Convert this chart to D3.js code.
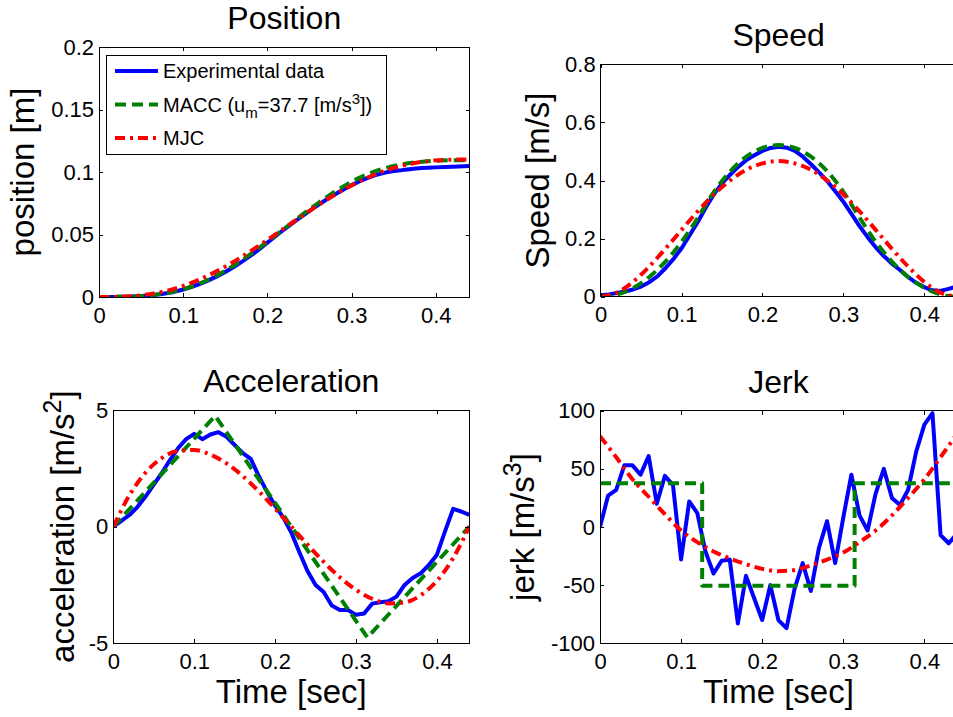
<!DOCTYPE html>
<html>
<head>
<meta charset="utf-8">
<script src="https://cdn.jsdelivr.net/npm/d3@7"></script>
<style>
  body { margin: 0; background: #fff; }
  svg { display: block; font-family: "Liberation Sans", Arial, Helvetica, sans-serif; }
  .frame { fill: none; stroke: #000; stroke-width: 1; shape-rendering: crispEdges; }
  .tick line { stroke: #000; shape-rendering: crispEdges; }
  .tick text { font-size: 22px; fill: #000; }
  .title { font-size: 32px; fill: #000; }
  .label { font-size: 33px; fill: #000; }
</style>
</head>
<body>
<script>
// time bases (sec)
var timeFine = [0, 0.01, 0.02, 0.03, 0.04, 0.05, 0.06, 0.07, 0.08, 0.09, 0.10, 0.11, 0.12, 0.13, 0.14,
  0.15, 0.16, 0.17, 0.18, 0.19, 0.20, 0.21, 0.22, 0.23, 0.24, 0.25, 0.26, 0.27, 0.28, 0.29, 0.30,
  0.31, 0.32, 0.33, 0.34, 0.35, 0.36, 0.37, 0.38, 0.39, 0.40, 0.41, 0.42, 0.43, 0.44];
var timeCoarse = [0, 0.02, 0.04, 0.06, 0.08, 0.10, 0.12, 0.14, 0.16, 0.18, 0.20, 0.22,
  0.24, 0.26, 0.28, 0.30, 0.32, 0.34, 0.36, 0.38, 0.40, 0.42, 0.44];

// position [m]
var posExp = [0, 0.0001, 0.0004, 0.0012, 0.003, 0.006, 0.0105, 0.0165, 0.024, 0.033, 0.0435, 0.054,
  0.064, 0.0735, 0.082, 0.0895, 0.0955, 0.0995, 0.1015, 0.103, 0.1037, 0.1042, 0.1048];
var posMacc = [0, 0.0001, 0.0004, 0.0014, 0.0032, 0.0063, 0.0109, 0.0172, 0.0252, 0.0343, 0.0443, 0.0547,
  0.0651, 0.075, 0.0842, 0.0922, 0.0985, 0.1031, 0.1062, 0.108, 0.109, 0.1094, 0.1095];
var posMjc = [0, 0.0001, 0.0007, 0.0023, 0.0049, 0.0089, 0.0142, 0.0207, 0.0282, 0.0367, 0.0457, 0.055,
  0.0643, 0.0733, 0.0818, 0.0893, 0.0958, 0.1011, 0.1051, 0.1078, 0.1093, 0.1099, 0.11];

// speed [m/s]
var speedExp = [0.005, 0.008, 0.013, 0.018, 0.025, 0.035, 0.05, 0.07, 0.098, 0.13, 0.167, 0.212, 0.257,
  0.307, 0.353, 0.39, 0.42, 0.447, 0.47, 0.487, 0.502, 0.512, 0.516, 0.513, 0.502, 0.482, 0.456, 0.428,
  0.398, 0.363, 0.327, 0.285, 0.243, 0.205, 0.17, 0.14, 0.114, 0.092, 0.068, 0.048, 0.033, 0.022, 0.02,
  0.027, 0.035];
var speedMacc = [0, 0.0075, 0.03, 0.068, 0.121, 0.189, 0.271, 0.361, 0.431, 0.482, 0.512, 0.522,
  0.512, 0.482, 0.432, 0.361, 0.272, 0.189, 0.121, 0.068, 0.031, 0.008, 0];
var speedMjc = [0, 0.014, 0.051, 0.104, 0.165, 0.23, 0.294, 0.352, 0.4, 0.437, 0.459, 0.467,
  0.459, 0.437, 0.4, 0.352, 0.294, 0.23, 0.165, 0.104, 0.051, 0.014, 0];

// acceleration [m/s^2]
var accExp = [0, 0.25, 0.5, 0.85, 1.3, 1.8, 2.3, 2.85, 3.36, 3.75, 3.98, 3.75, 3.95, 4.05, 3.85, 3.5,
  3.15, 2.9, 2.15, 1.5, 0.9, 0.4, -0.25, -1.1, -1.9, -2.5, -2.8, -3.38, -3.57, -3.57, -3.78, -3.72,
  -3.3, -3.24, -3.2, -3.0, -2.5, -2.2, -2.0, -1.64, -1.2, -0.2, 0.76, 0.65, 0.5];
var accMaccTime = [0, 0.126, 0.314, 0.44];
var accMacc = [0, 4.75, -4.75, 0];
var accMjc = [0, 1.35, 2.32, 2.94, 3.25, 3.29, 3.09, 2.71, 2.17, 1.51, 0.77, 0,
  -0.77, -1.51, -2.17, -2.71, -3.09, -3.29, -3.25, -2.94, -2.32, -1.35, 0];

// jerk [m/s^3]
var jerkExp = [0, 27, 32, 53, 53, 45, 61, 20, 44, 36, -28, 22, 12, -21, -40, -29, -28, -83, -42, -61,
  -80, -50, -80, -87, -53, -31, -55, -18, 5, -31, 8, 45, 10, -3, 29, 50, 25, 19, 32, 65, 88, 98, -7,
  -14, -6];
var jerkMaccTime = [0, 0.126, 0.126, 0.314, 0.314, 0.44];
var jerkMacc = [37.7, 37.7, -50.5, -50.5, 37.7, 37.7];
var jerkMjc = [78, 60, 41, 26, 11, -3, -13, -21, -27, -32, -36, -38,
  -37, -33, -28, -22, -13, -3, 10, 25, 41, 60, 80];

// ticks
var xTicks = [0, 0.1, 0.2, 0.3, 0.4];
var posTicks = [0, 0.05, 0.1, 0.15, 0.2];
var speedTicks = [0, 0.2, 0.4, 0.6, 0.8];
var accTicks = [-5, 0, 5];
var jerkTicks = [-100, -50, 0, 50, 100];

var legendNames = ["Experimental data", "MACC", "MJC"];

var styles = {
  exp:  { color: "#0000ff", dash: null },
  macc: { color: "#008000", dash: "11,6" },
  mjc:  { color: "#ff0000", dash: "10,5,3,5" }
};

var width = 953, height = 717;

var svg = d3.select("body")
  .append("svg")
  .attr("width", width)
  .attr("height", height);

var fmt = function(d) { return String(+d.toFixed(3)); };

//panel layout
var panels = [
  { title: "Position", left: 99, top: 47, right: 469.5, bottom: 297, yDomain: [0, 0.2], yTicks: posTicks,
    ylabel: [["position [m]"]], ylabelX: 34,
    series: [["exp", timeCoarse, posExp, true], ["macc", timeCoarse, posMacc, true], ["mjc", timeCoarse, posMjc, true]] },
  { title: "Speed", left: 600.7, top: 64.3, right: 956.6, bottom: 296.7, yDomain: [0, 0.8], yTicks: speedTicks,
    ylabel: [["Speed [m/s]"]], ylabelX: 549,
    series: [["exp", timeFine, speedExp, false], ["macc", timeCoarse, speedMacc, true], ["mjc", timeCoarse, speedMjc, true]] },
  { title: "Acceleration", left: 113.3, top: 410, right: 469.3, bottom: 643.3, yDomain: [-5, 5], yTicks: accTicks,
    ylabel: [["acceleration [m/s"], ["2", "sup"], ["]"]], ylabelX: 74, xlabel: "Time [sec]",
    series: [["exp", timeFine, accExp, false], ["macc", accMaccTime, accMacc, false], ["mjc", timeCoarse, accMjc, true]] },
  { title: "Jerk", left: 600, top: 410.7, right: 956.8, bottom: 643.3, yDomain: [-100, 100], yTicks: jerkTicks,
    ylabel: [["jerk [m/s"], ["3", "sup"], ["]"]], ylabelX: 534, xlabel: "Time [sec]",
    series: [["exp", timeFine, jerkExp, false], ["macc", jerkMaccTime, jerkMacc, false], ["mjc", timeCoarse, jerkMjc, true]] }
];

panels.forEach(function(p, i) {
  var x = d3.scaleLinear().domain([0, 0.44]).range([p.left, p.right]);
  var y = d3.scaleLinear().domain(p.yDomain).range([p.bottom, p.top]);
  var g = svg.append("g").attr("class", "panel");

  //clip lines to the axes box
  g.append("clipPath").attr("id", "clip" + i)
    .append("rect")
    .attr("x", p.left).attr("y", p.top)
    .attr("width", p.right - p.left).attr("height", p.bottom - p.top);

  var lines = g.append("g").attr("clip-path", "url(#clip" + i + ")");
  p.series.forEach(function(s) {
    var st = styles[s[0]];
    var pts = s[1].map(function(t, k) { return [t, s[2][k]]; });
    var line = d3.line()
      .x(function(d) { return x(d[0]); })
      .y(function(d) { return y(d[1]); })
      .curve(s[3] ? d3.curveMonotoneX : d3.curveLinear);
    lines.append("path")
      .datum(pts)
      .attr("d", line)
      .attr("fill", "none")
      .attr("stroke", st.color)
      .attr("stroke-width", 4)
      .attr("stroke-linejoin", "round")
      .attr("stroke-dasharray", st.dash);
  });

  //axes with inward ticks on all sides
  g.append("g").attr("transform", "translate(0," + p.bottom + ")")
    .call(d3.axisBottom(x).tickValues(xTicks).tickFormat(fmt).tickSizeInner(-4).tickSizeOuter(0).tickPadding(10));
  g.append("g").attr("transform", "translate(0," + p.top + ")")
    .call(d3.axisTop(x).tickValues(xTicks).tickFormat("").tickSizeInner(-4).tickSizeOuter(0));
  g.append("g").attr("transform", "translate(" + p.left + ",0)")
    .call(d3.axisLeft(y).tickValues(p.yTicks).tickFormat(fmt).tickSizeInner(-4).tickSizeOuter(0).tickPadding(5));
  g.append("g").attr("transform", "translate(" + p.right + ",0)")
    .call(d3.axisRight(y).tickValues(p.yTicks).tickFormat("").tickSizeInner(-4).tickSizeOuter(0));
  g.selectAll(".domain").remove();
  g.selectAll(".tick text").attr("font-family", null).attr("font-size", null);

  g.append("rect").attr("class", "frame")
    .attr("x", p.left).attr("y", p.top)
    .attr("width", p.right - p.left).attr("height", p.bottom - p.top);

  //title
  g.append("text").attr("class", "title")
    .attr("x", (p.left + p.right) / 2)
    .attr("y", p.top - 18)
    .attr("text-anchor", "middle")
    .text(p.title);

  //y label
  var yl = g.append("text").attr("class", "label")
    .attr("text-anchor", "middle")
    .attr("transform", "translate(" + p.ylabelX + "," + ((p.top + p.bottom) / 2) + ") rotate(-90)");
  p.ylabel.forEach(function(part, k) {
    var ts = yl.append("tspan").text(part[0]);
    if (part[1] === "sup") ts.attr("font-size", 25).attr("dy", -13);
    else if (k > 0) ts.attr("dy", 13);
  });

  //x label
  if (p.xlabel) {
    g.append("text").attr("class", "label")
      .attr("x", (p.left + p.right) / 2)
      .attr("y", p.bottom + 60)
      .attr("text-anchor", "middle")
      .text(p.xlabel);
  }
});

//legend in the position panel
var legend = svg.append("g").attr("class", "legend");
legend.append("rect")
  .attr("x", 106.5).attr("y", 55)
  .attr("width", 280).attr("height", 99)
  .attr("fill", "#fff").attr("stroke", "#000").attr("stroke-width", 1)
  .attr("shape-rendering", "crispEdges");

var legendKeys = ["exp", "macc", "mjc"];
var rowY = d3.scalePoint().domain(legendKeys).range([71, 138]);

legendKeys.forEach(function(key, k) {
  var st = styles[key];
  var yy = rowY(key);
  legend.append("line")
    .attr("x1", 115).attr("x2", 158)
    .attr("y1", yy).attr("y2", yy)
    .attr("stroke", st.color).attr("stroke-width", 4)
    .attr("stroke-dasharray", st.dash);
  var txt = legend.append("text")
    .attr("x", 163).attr("y", yy + 7)
    .attr("font-size", 20);
  if (key === "macc") {
    txt.append("tspan").text("MACC (u");
    txt.append("tspan").attr("font-size", 15).attr("dy", 6).text("m");
    txt.append("tspan").attr("dy", -6).text("=37.7 [m/s");
    txt.append("tspan").attr("font-size", 15).attr("dy", -8).text("3");
    txt.append("tspan").attr("dy", 8).text("])");
  } else {
    txt.text(legendNames[k]);
  }
});
</script>
</body>
</html>
